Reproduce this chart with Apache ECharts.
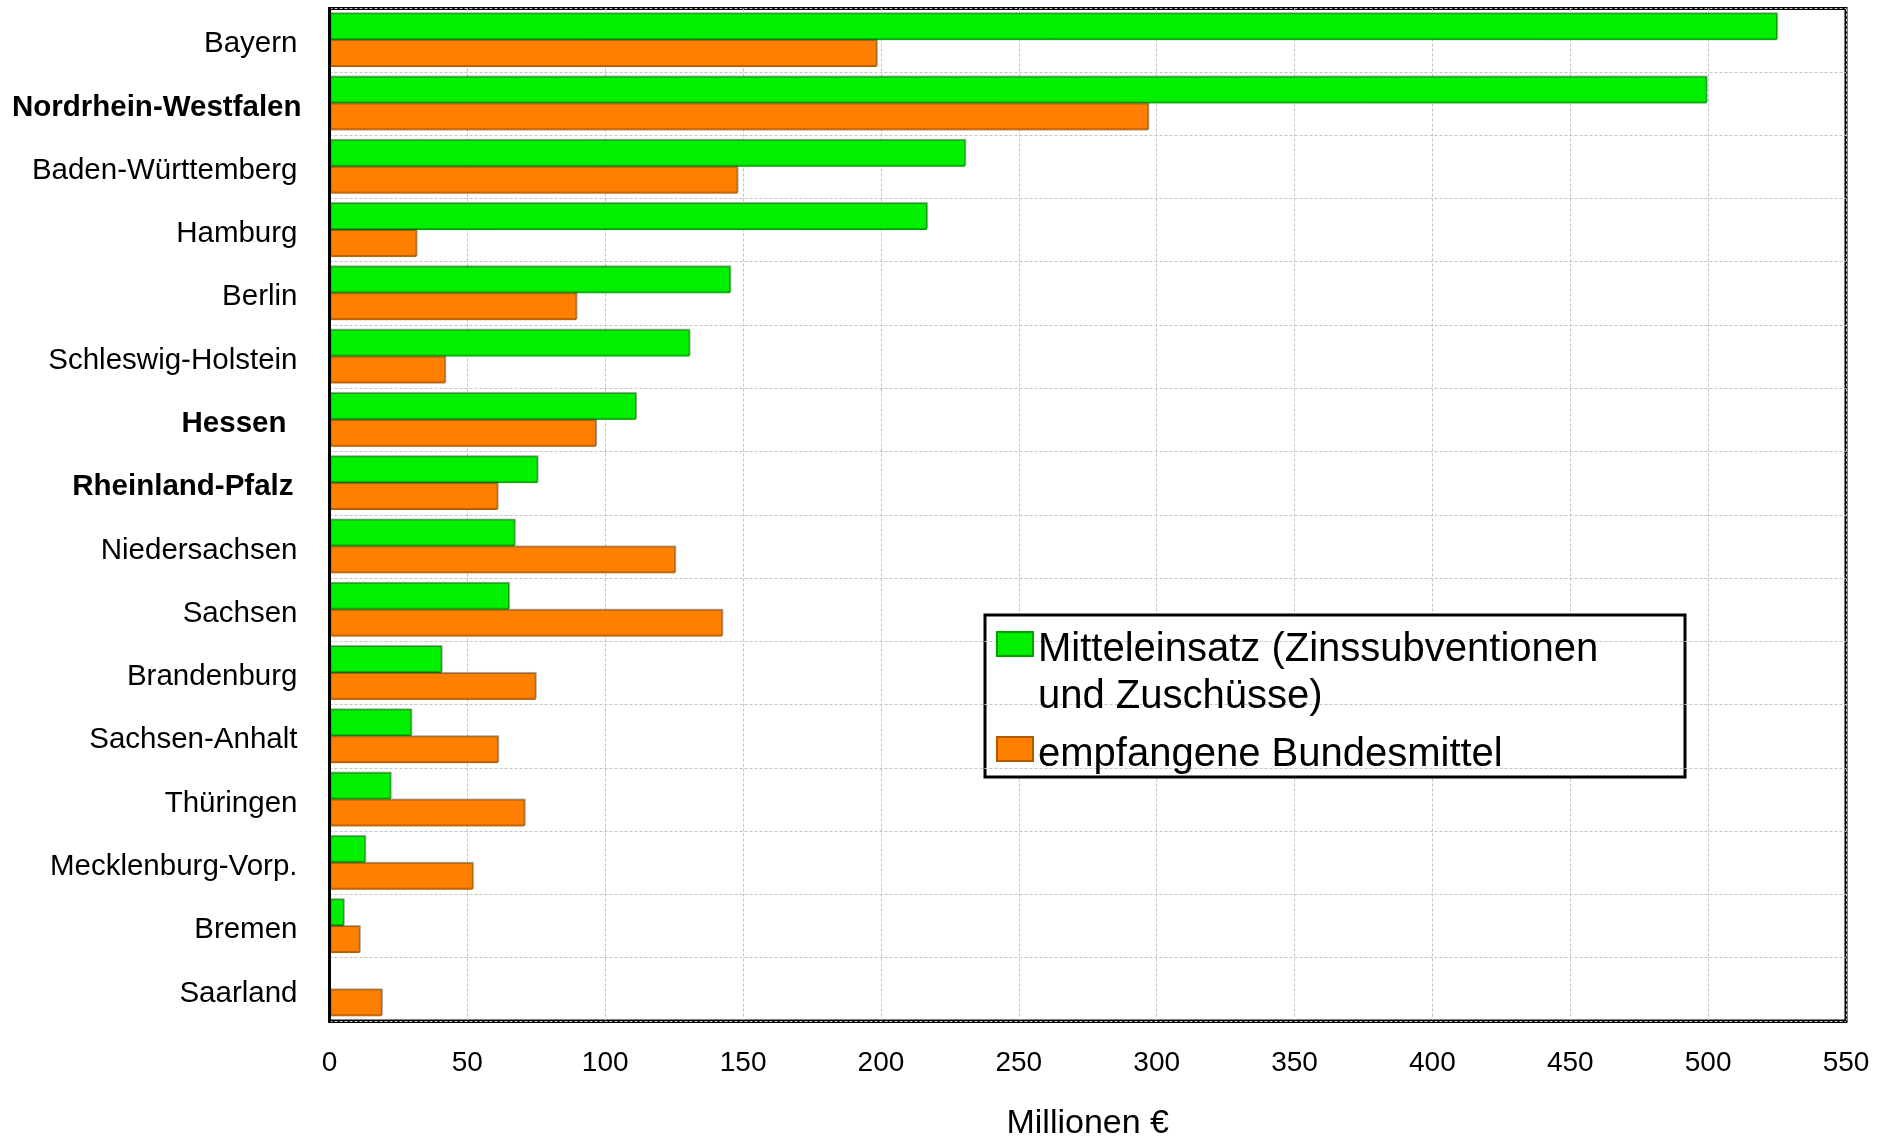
<!DOCTYPE html>
<html>
<head>
<meta charset="utf-8">
<script src="https://cdn.jsdelivr.net/npm/echarts@6/dist/echarts.min.js"></script>
<style>
  html, body { margin: 0; padding: 0; background: #fff; }
  #chart { width: 1892px; height: 1137px; }
</style>
</head>
<body>
<div id="chart"></div>
<script>
// Bundesländer, top to bottom
const categories = [
  'Bayern', 'Nordrhein-Westfalen', 'Baden-Württemberg', 'Hamburg', 'Berlin',
  'Schleswig-Holstein', 'Hessen', 'Rheinland-Pfalz', 'Niedersachsen', 'Sachsen',
  'Brandenburg', 'Sachsen-Anhalt', 'Thüringen', 'Mecklenburg-Vorp.', 'Bremen', 'Saarland'
];
// Mitteleinsatz (Zinssubventionen und Zuschüsse), Millionen €
const mitteleinsatz = [525, 499.5, 230.6, 216.7, 145.4, 130.6, 111.2, 75.5, 67.2, 65.1, 40.7, 29.7, 22.2, 13.0, 5.2, 0];
// empfangene Bundesmittel, Millionen €
const bundesmittel = [198.5, 297, 148, 31.6, 89.6, 42.0, 96.7, 61.0, 125.4, 142.5, 74.8, 61.2, 70.8, 52.0, 11.0, 19.0];
// value axis ticks
const xMin = 0, xMax = 550, xStep = 50;

const seriesNames = ['Mitteleinsatz (Zinssubventionen und Zuschüsse)', 'empfangene Bundesmittel'];
const boldStates = { 'Nordrhein-Westfalen': 'b', 'Hessen': 'h', 'Rheinland-Pfalz': 'r' };

const FONT = '"Liberation Sans", Arial, sans-serif';
const labelBase = { fontFamily: FONT, fontSize: 29.5, color: '#000' };

const chart = echarts.init(document.getElementById('chart'), null, { renderer: 'canvas' });

chart.setOption({
  animation: false,
  backgroundColor: '#fff',
  textStyle: { fontFamily: FONT },
  grid: {
    left: 329.5, right: 46, top: 8.5, bottom: 116,
    outerBoundsMode: 'none',
    show: true, borderColor: '#000', borderWidth: 3, backgroundColor: 'transparent'
  },
  xAxis: {
    type: 'value',
    min: xMin, max: xMax, interval: xStep,
    axisLine: { show: true, lineStyle: { color: '#000', width: 3 } },
    axisTick: { show: false },
    axisLabel: { fontFamily: FONT, fontSize: 28, color: '#000', margin: 28 },
    splitLine: { show: true, lineStyle: { color: '#c4c4c4', width: 1, type: [3, 2] } },
    name: 'Millionen €',
    nameLocation: 'middle',
    nameGap: 86,
    nameTextStyle: { fontFamily: FONT, fontSize: 34, color: '#000' }
  },
  yAxis: {
    type: 'category',
    data: categories,
    inverse: true,
    z: 3,
    axisLine: { show: true, lineStyle: { color: '#000', width: 3 } },
    axisTick: { show: false },
    splitLine: { show: true, lineStyle: { color: '#c4c4c4', width: 1, type: [3, 2] } },
    axisLabel: {
      margin: 28,
      formatter: function (v) {
        const key = boldStates[v] || 'n';
        return '{' + key + '|' + v + '}';
      },
      rich: {
        n: Object.assign({}, labelBase, { padding: [8, 4, 0, 0] }),
        b: Object.assign({}, labelBase, { fontWeight: 'bold', padding: [8, 0, 0, 0] }),
        h: Object.assign({}, labelBase, { fontWeight: 'bold', padding: [8, 15, 0, 0] }),
        r: Object.assign({}, labelBase, { fontWeight: 'bold', padding: [8, 8, 0, 0] })
      }
    }
  },
  legend: {
    orient: 'vertical',
    left: 996,
    top: 573.5,
    padding: 0,
    itemWidth: 36,
    itemHeight: 24,
    itemGap: 7,
    icon: 'rect',
    selectedMode: false,
    data: seriesNames,
    formatter: function (name) {
      // first entry wraps onto a second line; the leading blank line keeps
      // the swatch level with the first text line
      if (name === seriesNames[0]) {
        const parts = name.split(' und ');
        return '\n{t|' + parts[0] + '}\n{t|und ' + parts[1] + '}';
      }
      return '{t|' + name + '}';
    },
    textStyle: {
      fontFamily: FONT, fontSize: 40, lineHeight: 47, color: '#000',
      rich: {
        t: { fontFamily: FONT, fontSize: 40, lineHeight: 47, color: '#000', padding: [11, 0, 0, 0] }
      }
    }
  },
  graphic: {
    elements: [{
      type: 'rect',
      z: 3,
      silent: true,
      shape: { x: 985, y: 615, width: 700, height: 162 },
      style: { fill: '#fff', stroke: '#000', lineWidth: 3 }
    }]
  },
  series: [
    {
      name: seriesNames[0],
      type: 'bar',
      data: mitteleinsatz,
      barGap: '0%',
      barCategoryGap: '15%',
      itemStyle: {
        color: '#00f000', borderColor: '#00a000', borderWidth: 1,
        shadowColor: 'rgba(0,0,0,0.25)', shadowOffsetX: 1, shadowOffsetY: -1, shadowBlur: 0
      },
      emphasis: { disabled: true }
    },
    {
      name: seriesNames[1],
      type: 'bar',
      data: bundesmittel,
      barGap: '0%',
      barCategoryGap: '15%',
      itemStyle: {
        color: '#ff8000', borderColor: '#b05a00', borderWidth: 1,
        shadowColor: 'rgba(0,0,0,0.25)', shadowOffsetX: 1, shadowOffsetY: -1, shadowBlur: 0
      },
      emphasis: { disabled: true }
    }
  ]
});
</script>
</body>
</html>
